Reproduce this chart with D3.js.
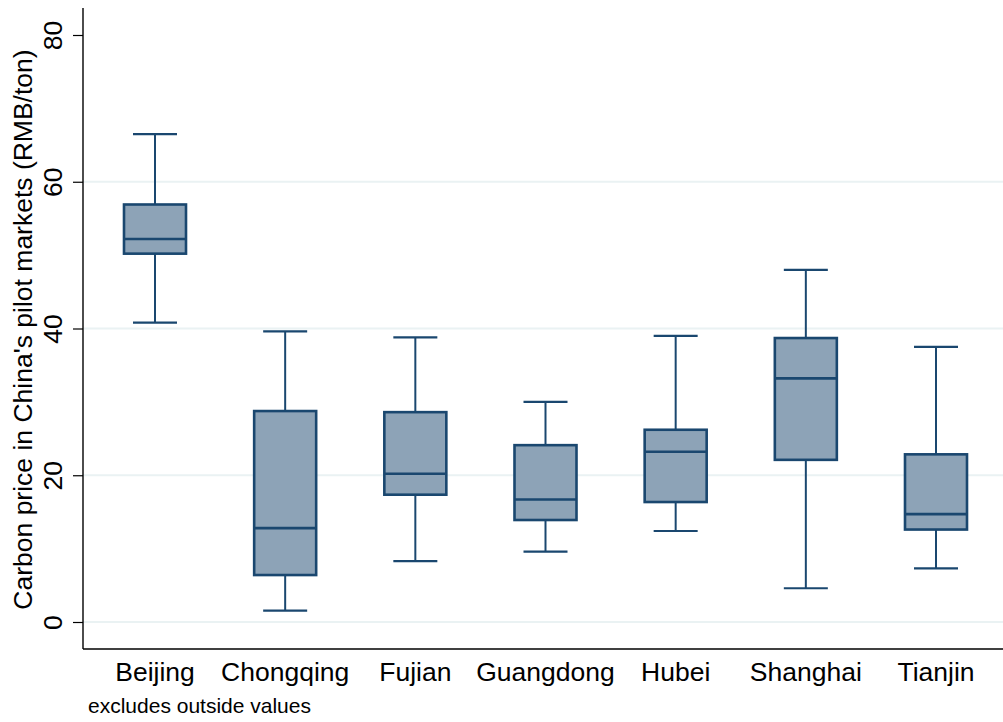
<!DOCTYPE html>
<html>
<head>
<meta charset="utf-8">
<script src="https://cdn.jsdelivr.net/npm/d3@7"></script>
<style>
  html, body { margin: 0; padding: 0; background: #fff; }
  svg { display: block; font-family: "Liberation Sans", Arial, Helvetica, sans-serif; }
</style>
</head>
<body>
<svg id="chart" width="1003" height="722"></svg>
<script>
// Carbon price distribution by pilot market (RMB/ton)
const markets = ["Beijing", "Chongqing", "Fujian", "Guangdong", "Hubei", "Shanghai", "Tianjin"];
const lowerWhisker = [40.8, 1.55, 8.3, 9.6, 12.4, 4.6, 7.3];
const q1           = [50.2, 6.4, 17.35, 13.9, 16.35, 22.1, 12.6];
const medians      = [52.2, 12.8, 20.2, 16.7, 23.2, 33.2, 14.7];
const q3           = [56.9, 28.75, 28.6, 24.1, 26.2, 38.7, 22.85];
const upperWhisker = [66.5, 39.6, 38.8, 30.0, 39.0, 48.0, 37.5];
const yTicks = [0, 20, 40, 60, 80];

const boxes = markets.map((m, i) => ({
  market: m, lo: lowerWhisker[i], q1: q1[i], med: medians[i], q3: q3[i], hi: upperWhisker[i]
}));

const svg = d3.select("#chart");
const plot = { left: 83, right: 1003, top: 8, bottom: 649 };

const y = d3.scaleLinear().domain([0, 80]).range([622, 35]);
const x = d3.scalePoint().domain(markets).range([155, 936]);

const fill = "#8DA3B7", ink = "#1A476F", grid = "#EAF2F3";
const boxW = 64, capW = 44;

// horizontal grid lines
svg.append("g").selectAll("line").data(yTicks.filter(t => t < 80)).join("line")
  .attr("x1", plot.left).attr("x2", plot.right)
  .attr("y1", d => y(d)).attr("y2", d => y(d))
  .attr("stroke", grid).attr("stroke-width", 2);

// y axis
const yAxis = d3.axisLeft(y).tickValues(yTicks).tickSize(10).tickPadding(0).tickFormat(d3.format("d"));
const gy = svg.append("g").attr("transform", `translate(${plot.left},0)`).call(yAxis);
gy.select(".domain").remove();
gy.selectAll(".tick line").attr("stroke", "#000").attr("stroke-width", 1.2);
gy.selectAll(".tick text")
  .attr("font-size", 26.5).attr("fill", "#000")
  .attr("text-anchor", "middle")
  .attr("dy", 0)
  .attr("x", 0).attr("y", 0)
  .attr("transform", "translate(-21,0) rotate(-90)");

// axis lines
svg.append("line").attr("x1", plot.left).attr("x2", plot.left)
  .attr("y1", plot.top).attr("y2", plot.bottom).attr("stroke", "#000").attr("stroke-width", 1.4);
svg.append("line").attr("x1", plot.left).attr("x2", plot.right)
  .attr("y1", plot.bottom).attr("y2", plot.bottom).attr("stroke", "#000").attr("stroke-width", 1.4);

// category labels
svg.append("g").selectAll("text").data(markets).join("text")
  .attr("x", d => x(d)).attr("y", 681)
  .attr("text-anchor", "middle").attr("font-size", 26.5).attr("fill", "#000")
  .text(d => d);

// y axis title
svg.append("text")
  .attr("transform", "translate(32,329.5) rotate(-90)")
  .attr("text-anchor", "middle").attr("font-size", 26.5).attr("fill", "#000")
  .text("Carbon price in China's pilot markets (RMB/ton)");

// note
svg.append("text").attr("x", 88).attr("y", 713)
  .attr("font-size", 21).attr("fill", "#000")
  .text("excludes outside values");

// box plots
const g = svg.append("g").selectAll("g").data(boxes).join("g")
  .attr("transform", d => `translate(${x(d.market)},0)`);

g.append("line").attr("x1", 0).attr("x2", 0)
  .attr("y1", d => y(d.hi)).attr("y2", d => y(d.q3))
  .attr("stroke", ink).attr("stroke-width", 2);
g.append("line").attr("x1", 0).attr("x2", 0)
  .attr("y1", d => y(d.q1)).attr("y2", d => y(d.lo))
  .attr("stroke", ink).attr("stroke-width", 2);
g.append("line").attr("x1", -capW / 2).attr("x2", capW / 2)
  .attr("y1", d => y(d.hi)).attr("y2", d => y(d.hi))
  .attr("stroke", ink).attr("stroke-width", 2.2);
g.append("line").attr("x1", -capW / 2).attr("x2", capW / 2)
  .attr("y1", d => y(d.lo)).attr("y2", d => y(d.lo))
  .attr("stroke", ink).attr("stroke-width", 2.2);
g.append("rect")
  .attr("x", -boxW / 2 + 1).attr("width", boxW - 2)
  .attr("y", d => y(d.q3)).attr("height", d => y(d.q1) - y(d.q3))
  .attr("fill", fill).attr("stroke", ink).attr("stroke-width", 2.6);
g.append("line").attr("x1", -boxW / 2 + 1).attr("x2", boxW / 2 - 1)
  .attr("y1", d => y(d.med)).attr("y2", d => y(d.med))
  .attr("stroke", ink).attr("stroke-width", 2.6);
</script>
</body>
</html>
